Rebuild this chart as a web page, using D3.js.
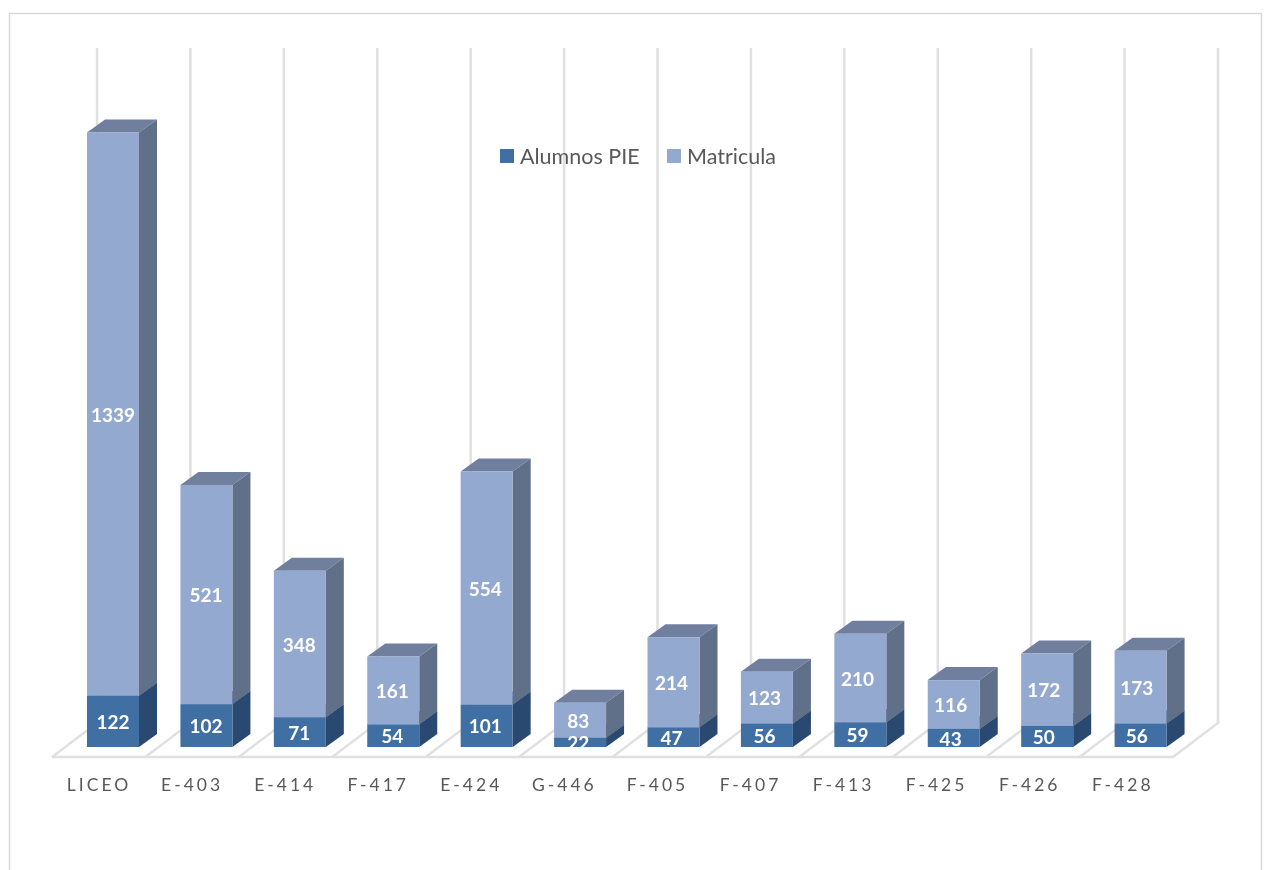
<!DOCTYPE html>
<html>
<head>
<meta charset="utf-8">
<script src="https://cdn.jsdelivr.net/npm/d3@7"></script>
<style>
  html, body { margin: 0; padding: 0; background: #fff; }
  text { font-family: Lato, "Open Sans", sans-serif; }
</style>
</head>
<body>
<div id="chart"></div>
<script>
const categories = ['LICEO', 'E-403', 'E-414', 'F-417', 'E-424', 'G-446', 'F-405', 'F-407', 'F-413', 'F-425', 'F-426', 'F-428']
const alumnosPIE = [122, 102, 71, 54, 101, 22, 47, 56, 59, 43, 50, 56]
const matricula = [1339, 521, 348, 161, 554, 83, 214, 123, 210, 116, 172, 173]
const seriesNames = ['Alumnos PIE', 'Matricula']

const width = 1264
const height = 870
const floorLeft = 52
const floorRight = 1173
const floorY = 757
const baseY = 747
const wallDx = 45
const wallDy = -34
const depthX = 18
const depthY = -13
const barOffset = 35
const barWidth = 52

const colors = {
  'Alumnos PIE': {front: '#4170a3', side: '#2b4a70', top: '#35597f'},
  'Matricula': {front: '#94a9d0', side: '#5f6f88', top: '#717f9f'}
}

const rows = categories.map((c, i) => ({cat: c, 'Alumnos PIE': alumnosPIE[i], 'Matricula': matricula[i]}))
const stacked = d3.stack().keys(seriesNames)(rows)

const x = d3.scaleBand().domain(categories).range([floorLeft, floorRight])
// the labels run on a slightly tighter step than the bars
const xLabel = d3.scaleBand().domain(categories).range([52.5, 1169.3])
const y = d3.scaleLinear().domain([0, 1600]).range([baseY, baseY - 673])

const svg = d3.select('#chart').append('svg')
  .attr('width', width)
  .attr('height', height)
  .style('display', 'block')

const defs = svg.append('defs')
defs.append('filter').attr('id', 'soft')
  .append('feGaussianBlur').attr('stdDeviation', 0.5)
defs.append('filter').attr('id', 'softText')
  .append('feGaussianBlur').attr('stdDeviation', 0.3)

// outer frame, open at the bottom of the picture
svg.append('path')
  .attr('d', `M9.5,${height}V13.5H1261.5V${height}`)
  .attr('fill', 'none')
  .attr('stroke', '#d9d9d9')
  .attr('stroke-width', 1.5)

// walls and floor
const edges = categories.map(c => x(c)).concat(floorRight)
const grid = svg.append('g')
  .attr('fill', 'none')
  .attr('stroke', '#e0e0e0')
  .attr('stroke-width', 2.5)
  .attr('filter', 'url(#soft)')
grid.selectAll('path.wall').data(edges).join('path')
  .attr('class', 'wall')
  .attr('d', d => `M${d + wallDx},48V${floorY + wallDy}L${d},${floorY}`)
grid.append('path')
  .attr('d', `M${floorLeft},${floorY}H${floorRight}`)

// bars, bottom segment first
const bars = svg.append('g').attr('filter', 'url(#soft)')
stacked.forEach(s => {
  const col = colors[s.key]
  const g = bars.append('g')
  s.forEach(d => {
    const x0 = x(d.data.cat) + barOffset
    const x1 = x0 + barWidth
    const yTop = y(d[1])
    const yBot = y(d[0])
    g.append('path').attr('fill', col.top)
      .attr('d', `M${x0},${yTop}l${depthX},${depthY}H${x1 + depthX}L${x1},${yTop}Z`)
    g.append('path').attr('fill', col.side)
      .attr('d', `M${x1},${yTop}l${depthX},${depthY}V${yBot + depthY}L${x1},${yBot}Z`)
    g.append('rect').attr('fill', col.front)
      .attr('x', x0).attr('y', yTop)
      .attr('width', barWidth).attr('height', yBot - yTop)
  })
})

// value labels
const valueLabels = svg.append('g').attr('filter', 'url(#softText)')
stacked.forEach(s => {
  valueLabels.append('g').selectAll('text').data(s).join('text')
    .attr('x', d => xLabel(d.data.cat) + xLabel.bandwidth() / 2 + 14)
    .attr('y', d => (y(d[0]) + y(d[1])) / 2 + 1)
    .attr('dy', '0.35em')
    .attr('text-anchor', 'middle')
    .attr('font-size', 19)
    .attr('font-weight', 700)
    .attr('fill', '#fff')
    .text(d => d[1] - d[0])
})

// category labels
svg.append('g').attr('filter', 'url(#softText)')
  .selectAll('text').data(categories).join('text')
  .attr('x', d => xLabel(d) + xLabel.bandwidth() / 2)
  .attr('y', 785)
  .attr('dy', '0.35em')
  .attr('text-anchor', 'middle')
  .attr('font-size', 17.5)
  .attr('letter-spacing', 3)
  .attr('fill', '#595959')
  .text(d => d)

// legend
const legendX = [500, 667]
const legend = svg.append('g').attr('filter', 'url(#softText)')
  .selectAll('g').data(seriesNames).join('g')
  .attr('transform', (d, i) => `translate(${legendX[i]},149)`)
legend.append('rect')
  .attr('width', 14).attr('height', 14)
  .attr('fill', d => colors[d].front)
legend.append('text')
  .attr('x', 20).attr('y', 7.5)
  .attr('dy', '0.35em')
  .attr('font-size', 21.5)
  .attr('fill', '#595959')
  .text(d => d)
</script>
</body>
</html>
